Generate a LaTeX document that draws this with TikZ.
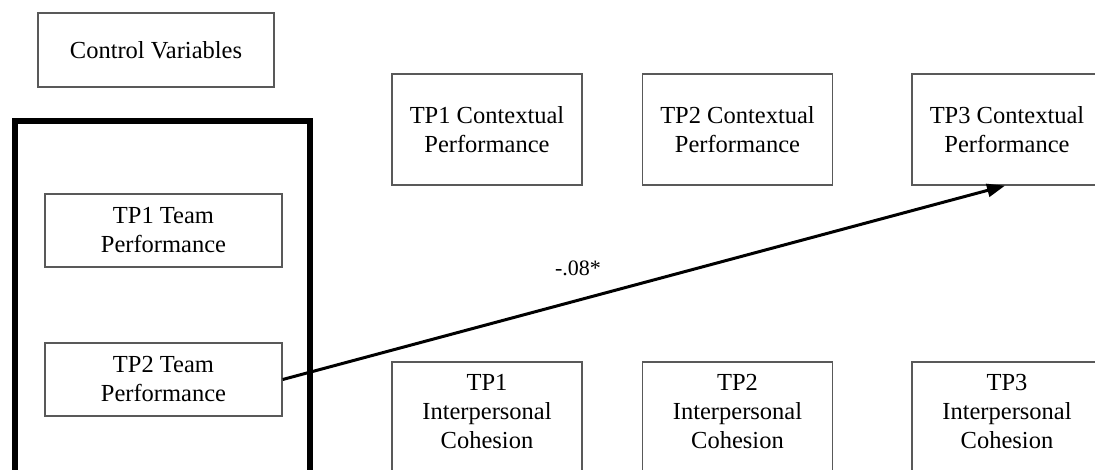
\documentclass[tikz,border=0pt]{standalone}
\usepackage{fontspec}
\setmainfont{Liberation Serif}
\usetikzlibrary{arrows.meta}
\tikzset{
  var/.style={draw=black!65, line width=1.4pt, align=center, inner sep=0pt,
    font=\fontsize{24.5}{29}\selectfont},
  ctx/.style={var, minimum width=190pt, minimum height=111pt},
  team/.style={var, minimum width=237pt, minimum height=73pt},
  groupframe/.style={draw=black, line width=6pt},
  path/.style={draw=black, line width=3pt, -{Triangle[length=18pt,width=13pt]}},
  coef/.style={font=\fontsize{22}{25}\selectfont, inner sep=0pt}
}
\newcommand{\lift}{\rule[-12pt]{0pt}{0pt}}
\begin{document}
\begin{tikzpicture}[x=1pt,y=-1pt]
\useasboundingbox (0,0) rectangle (1095,470);
\clip (0,0) rectangle (1095,470);
\node[team, minimum width=236pt, minimum height=74pt] (cv) at (156,50) {Control Variables};
\draw[groupframe] (15,121) rectangle (310,490);
\node[team] (tp1t) at (163.5,230.5) {TP1 Team\\Performance};
\node[team] (tp2t) at (163.5,379.5) {TP2 Team\\Performance};
\node[ctx] (tp1c) at (487,129.5) {TP1 Contextual\\Performance};
\node[ctx] (tp2c) at (737.5,129.5) {TP2 Contextual\\Performance};
\node[ctx] (tp3c) at (1007,129.5) {TP3 Contextual\\Performance};
\node[ctx] (tp1i) at (487,417.5) {TP1\\Interpersonal\\Cohesion\lift};
\node[ctx] (tp2i) at (737.5,417.5) {TP2\\Interpersonal\\Cohesion\lift};
\node[ctx] (tp3i) at (1007,417.5) {TP3\\Interpersonal\\Cohesion\lift};
\draw[path] (tp2t.east) -- ([xshift=-2pt]tp3c.south);
\node[coef] (lbl) at (578,268) {-.08*};
\end{tikzpicture}
\end{document}
